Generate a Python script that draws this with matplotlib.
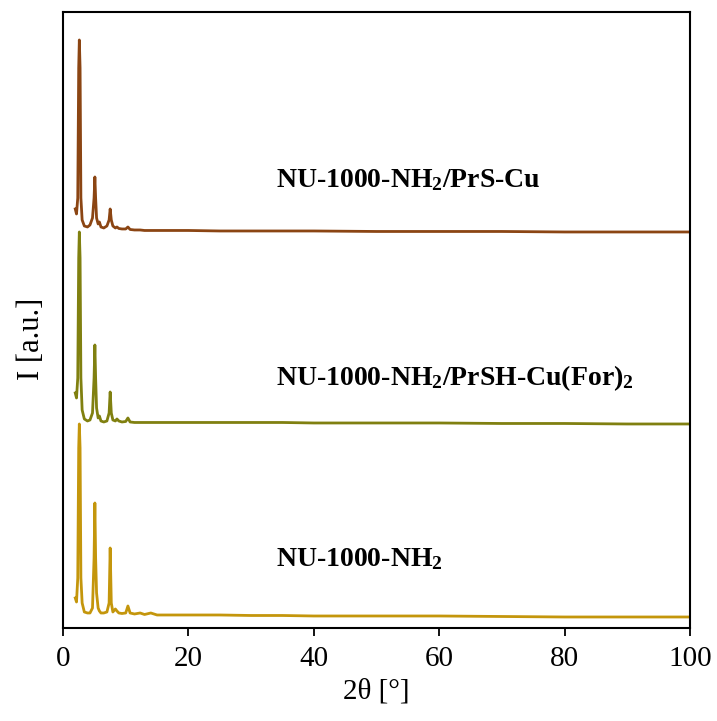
import matplotlib
matplotlib.use('Agg')
import matplotlib.pyplot as plt

plt.rcParams['font.family'] = ['Liberation Serif', 'DejaVu Serif']
plt.rcParams['mathtext.fontset'] = 'custom'
plt.rcParams['mathtext.rm'] = 'Liberation Serif'
plt.rcParams['mathtext.bf'] = 'Liberation Serif:bold'
plt.rcParams['mathtext.default'] = 'bf'

# vertices of the traced patterns (2theta in degrees, intensity in a.u., offsets included)
two_theta = [1.95, 2.15, 2.35, 2.50, 2.60, 2.72, 2.85, 3.05, 3.4, 3.9, 4.3, 4.7, 4.95, 5.08, 5.2,
             5.35, 5.6, 5.8, 6.05, 6.5, 7.0, 7.35, 7.52, 7.7, 7.95, 8.35, 8.6, 8.9, 9.4, 10.0,
             10.35, 10.7, 11.4, 12.3, 13.0, 14.0, 15.0, 17, 20, 25, 30, 35, 40, 50, 60, 70, 80, 90, 100]

prs_cu = [419, 414, 430, 560, 588, 560, 430, 408, 402, 401, 403, 410, 430, 451, 430,
          410, 404, 406, 401, 400, 402, 408, 419, 408, 402, 400, 401, 399.5, 399, 399,
          401, 398.5, 398, 398, 397.5, 397.5, 397.5, 397.5, 397.5, 397, 397, 397, 397, 396.5, 396.5, 396.5, 396, 396, 396]

prsh_cu_for = [235, 230, 250, 370, 396, 370, 250, 218, 209, 207, 208, 215, 250, 283, 250,
               220, 210, 212, 207, 206, 207, 215, 236, 215, 208, 207, 209, 207, 206, 206.5,
               210, 206, 205.5, 205.5, 205.5, 205.5, 205.5, 205.5, 205.5, 205.5, 205.5, 205.5, 205, 205, 205, 204.5, 204.5, 204, 204]

nu1000_nh2 = [30, 26, 50, 180, 204, 180, 50, 25, 16, 15, 15, 20, 70, 125, 70,
              35, 20, 17, 15, 15, 16, 25, 80, 25, 16, 19, 17, 15, 14.5, 15,
              22, 15, 14, 15, 13.5, 15, 13, 13, 13, 13, 12.5, 12.5, 12, 12, 12, 11.5, 11, 11, 11]

labels = ['NU-1000-NH$_2$/PrS-Cu', 'NU-1000-NH$_2$/PrSH-Cu(For)$_2$', 'NU-1000-NH$_2$']
label_y = [441, 243, 62]
colors = ['#8B4513', '#808010', '#C4960C']

fig = plt.figure(figsize=(7.17, 7.21), dpi=100)
ax = fig.add_axes([0.0879, 0.129, 0.8744, 0.8544])

for series, c in zip([prs_cu, prsh_cu_for, nu1000_nh2], colors):
    ax.plot(two_theta, series, color=c, lw=2.0, solid_joinstyle='round')

for lab, ly in zip(labels, label_y):
    ax.text(34, ly, lab, fontsize=20, fontweight='bold', va='baseline', ha='left')

ax.set_xlim(0, 100)
ax.set_ylim(0, 616)
ax.set_xticks([0, 20, 40, 60, 80, 100])
ax.set_yticks([])
ax.tick_params(axis='x', direction='out', length=6, width=1.3, labelsize=21, pad=7)
for s in ax.spines.values():
    s.set_linewidth(1.5)
ax.set_xlabel('2θ [°]', fontsize=21, labelpad=5)
ax.set_ylabel('I [a.u.]', fontsize=22)
ax.yaxis.set_label_coords(-0.027, 0.47)

fig.savefig('out.png', dpi=100)
